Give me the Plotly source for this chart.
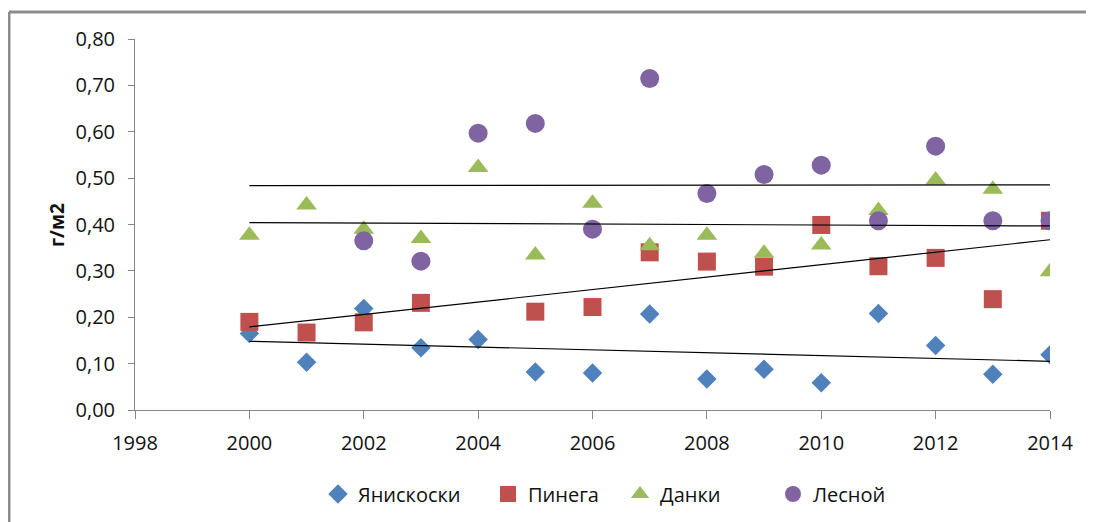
import numpy as np
import plotly.graph_objects as go

years = list(range(2000, 2015))

yaniskoski = [0.165, 0.103, 0.219, 0.134, 0.152, 0.082, 0.080, 0.207, 0.067, 0.088, 0.059, 0.208, 0.139, 0.077, 0.119]
pinega = [0.190, 0.167, 0.189, 0.231, None, 0.212, 0.222, 0.340, 0.320, 0.309, 0.399, 0.310, 0.328, 0.239, 0.408]
danki = [0.377, 0.442, 0.390, 0.370, 0.523, 0.334, 0.446, 0.354, 0.377, 0.338, 0.356, 0.430, 0.496, 0.476, 0.298]
lesnoy = [None, None, 0.365, 0.321, 0.597, 0.618, 0.390, 0.715, 0.467, 0.508, 0.528, 0.408, 0.569, 0.408, 0.408]

series_names = ["Янискоски", "Пинега", "Данки", "Лесной"]
x_ticks = [1998, 2000, 2002, 2004, 2006, 2008, 2010, 2012, 2014]
y_ticks = [0.0, 0.1, 0.2, 0.3, 0.4, 0.5, 0.6, 0.7, 0.8]
y_title = "г/м2"

colors = ["#4F81BD", "#C0504D", "#9BBB59", "#8064A2"]
symbols = ["diamond", "square", "triangle-up", "circle"]
sizes = [15, 18, 18, 19]
legend_widths = [125, 87, 108, 80]

FONT = "Open Sans, Noto Sans, sans-serif"

# page body has an 8px margin; plot area target (screen px): x 135..1050, y 39..410
OFF = 8
L, R, T, B = 135 - OFF, 1050 - OFF, 39 - OFF, 410 - OFF
PW, PH = R - L, B - T
W, H = 1094, 522

fig = go.Figure()
data = [yaniskoski, pinega, danki, lesnoy]
for name, vals, c, s, sz, lw in zip(series_names, data, colors, symbols, sizes, legend_widths):
    fig.add_trace(go.Scatter(
        x=years, y=vals, mode="markers", name=name, legendwidth=lw,
        marker=dict(symbol=s, size=sz, color=c, line=dict(width=0)),
    ))

# linear trend lines computed from the data
for vals in data:
    xs = np.array([x for x, v in zip(years, vals) if v is not None], dtype=float)
    ys = np.array([v for v in vals if v is not None], dtype=float)
    k, b = np.polyfit(xs, ys, 1)
    xe = [years[0], years[-1]]
    fig.add_trace(go.Scatter(
        x=xe, y=[k * xe[0] + b, k * xe[1] + b], mode="lines",
        line=dict(color="black", width=1.2), showlegend=False, hoverinfo="skip",
    ))

axis_common = dict(
    showgrid=False, zeroline=False, showline=True, linecolor="#868686", linewidth=1,
    ticks="outside", tickcolor="#868686",
    tickfont=dict(family=FONT, size=20, color="#111111"),
)

def px_x(sx):
    return (sx - OFF - L) / PW

def px_y(sy):
    return (B - (sy - OFF)) / PH

fig.update_layout(
    width=W, height=H,
    margin=dict(l=L, r=W - R, t=T, b=H - B),
    paper_bgcolor="white", plot_bgcolor="white",
    separators=", ",
    font=dict(family=FONT, color="#111111"),
    xaxis=dict(range=[1998, 2014], tickvals=x_ticks, tickformat="d", ticklen=8,
               ticklabelstandoff=7, **axis_common),
    yaxis=dict(range=[0, 0.8], tickvals=y_ticks, tickformat=".2f", ticklen=6,
               ticklabelstandoff=9, **axis_common),
    legend=dict(orientation="h", x=px_x(318), xanchor="left", y=px_y(494), yanchor="middle",
                font=dict(family=FONT, size=20, color="#111111"),
                itemwidth=30, entrywidthmode="pixels",
                traceorder="normal", bgcolor="rgba(0,0,0,0)"),
    showlegend=True,
)

fig.add_annotation(
    text="<b>" + y_title + "</b>", textangle=-90, xref="paper", yref="paper",
    x=px_x(57), y=px_y(225), xanchor="center", yanchor="middle", showarrow=False,
    font=dict(family=FONT, size=19, color="#111111"),
)

# chart-area frame (left and top edges visible in the reference)
fig.add_shape(type="line", xref="paper", yref="paper",
              x0=px_x(9), x1=1.3, y0=px_y(12), y1=px_y(12),
              line=dict(color="#8c8c8c", width=3))
fig.add_shape(type="line", xref="paper", yref="paper",
              x0=px_x(9), x1=px_x(9), y0=px_y(12), y1=-0.6,
              line=dict(color="#8c8c8c", width=3))

fig.write_html("out.html")
